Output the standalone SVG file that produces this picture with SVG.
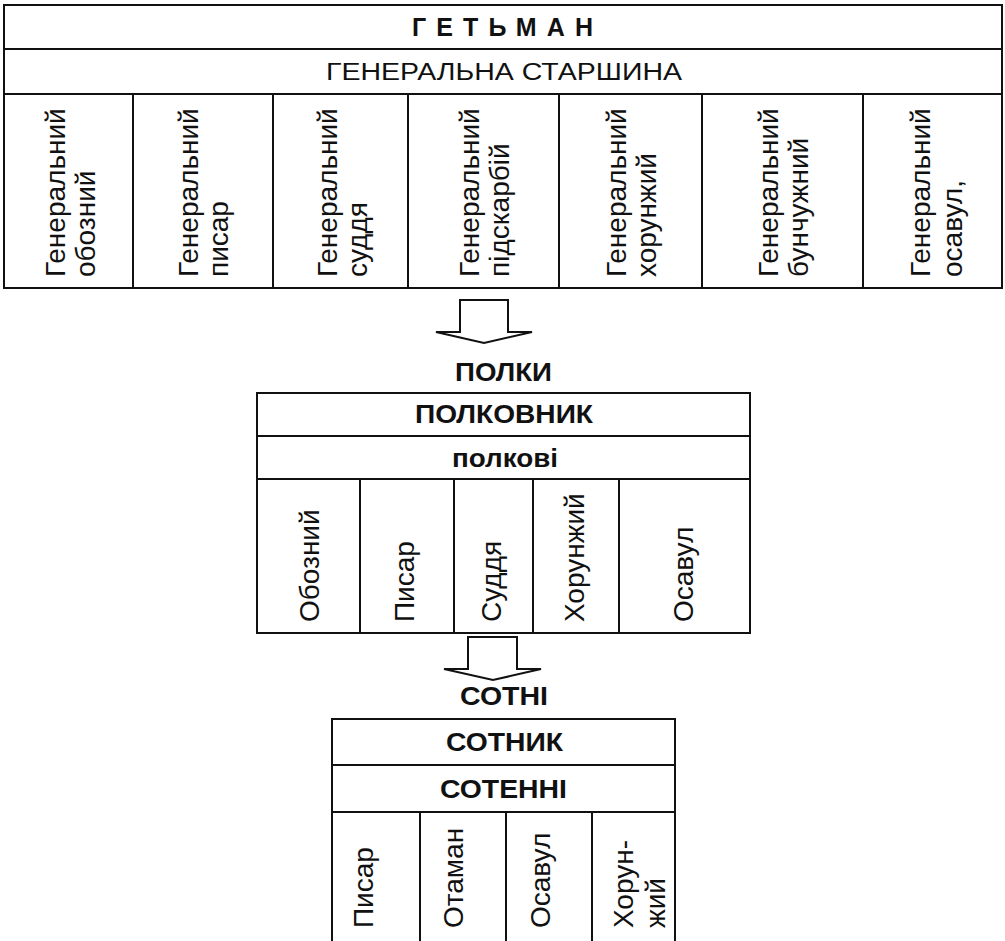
<svg xmlns="http://www.w3.org/2000/svg" width="1005" height="941" viewBox="0 0 1005 941">
<style>
.ln{fill:none;stroke:#111;stroke-width:2}
.bx{fill:#fff;stroke:#111;stroke-width:2}
.t{font-family:"Liberation Sans",Arial,sans-serif;fill:#111}
.b{font-weight:bold}
.r{font-size:28px}
.arr{fill:#fff;stroke:#111;stroke-width:2;stroke-linejoin:miter}
</style>
<rect width="1005" height="941" fill="#fff"/>

<g id="hetman">
  <rect class="bx" x="4" y="5" width="998" height="283"/>
  <line class="ln" x1="4" y1="49" x2="1002" y2="49"/>
  <line class="ln" x1="4" y1="94" x2="1002" y2="94"/>
  <line class="ln" x1="133" y1="94" x2="133" y2="288"/>
  <line class="ln" x1="273" y1="94" x2="273" y2="288"/>
  <line class="ln" x1="408" y1="94" x2="408" y2="288"/>
  <line class="ln" x1="559" y1="94" x2="559" y2="288"/>
  <line class="ln" x1="702" y1="94" x2="702" y2="288"/>
  <line class="ln" x1="863" y1="94" x2="863" y2="288"/>
  <text class="t b" x="412" y="36" font-size="25" textLength="181" lengthAdjust="spacing">ГЕТЬМАН</text>
  <text class="t" x="326" y="80" font-size="23" textLength="356" lengthAdjust="spacingAndGlyphs">ГЕНЕРАЛЬНА СТАРШИНА</text>
  <text class="t r" transform="translate(65,277) rotate(-90)"><tspan x="0" y="0">Генеральний</tspan><tspan x="0" y="30">обозний</tspan></text>
  <text class="t r" transform="translate(198,277) rotate(-90)"><tspan x="0" y="0">Генеральний</tspan><tspan x="0" y="30">писар</tspan></text>
  <text class="t r" transform="translate(337,277) rotate(-90)"><tspan x="0" y="0">Генеральний</tspan><tspan x="0" y="30">суддя</tspan></text>
  <text class="t r" transform="translate(479,277) rotate(-90)"><tspan x="0" y="0">Генеральний</tspan><tspan x="0" y="30">підскарбій</tspan></text>
  <text class="t r" transform="translate(626,277) rotate(-90)"><tspan x="0" y="0">Генеральний</tspan><tspan x="0" y="30">хорунжий</tspan></text>
  <text class="t r" transform="translate(778,277) rotate(-90)"><tspan x="0" y="0">Генеральний</tspan><tspan x="0" y="30">бунчужний</tspan></text>
  <text class="t r" transform="translate(930,277) rotate(-90)"><tspan x="0" y="0">Генеральний</tspan><tspan x="0" y="32">осавул,</tspan></text>
</g>

<g id="connectors">
  <polygon class="arr" points="460,300 508,300 508,332 532,332 484,343 436,332 460,332"/>
  <polygon class="arr" points="468,637 517,637 517,669 541,669 493,680 444,669 468,669"/>
</g>

<g id="polky-label">
  <text class="t b" x="455" y="381" font-size="25" textLength="97" lengthAdjust="spacingAndGlyphs">ПОЛКИ</text>
</g>

<g id="polky">
  <rect class="bx" x="257" y="393" width="493" height="240"/>
  <line class="ln" x1="257" y1="436" x2="750" y2="436"/>
  <line class="ln" x1="257" y1="479" x2="750" y2="479"/>
  <line class="ln" x1="360" y1="479" x2="360" y2="633"/>
  <line class="ln" x1="454" y1="479" x2="454" y2="633"/>
  <line class="ln" x1="533" y1="479" x2="533" y2="633"/>
  <line class="ln" x1="619" y1="479" x2="619" y2="633"/>
  <text class="t b" x="415" y="423" font-size="25" textLength="178" lengthAdjust="spacingAndGlyphs">ПОЛКОВНИК</text>
  <text class="t b" x="452" y="467" font-size="25" textLength="106" lengthAdjust="spacingAndGlyphs">полкові</text>
  <text class="t r" transform="translate(319,622) rotate(-90)">Обозний</text>
  <text class="t r" transform="translate(414,622) rotate(-90)">Писар</text>
  <text class="t r" transform="translate(501,622) rotate(-90)">Суддя</text>
  <text class="t r" transform="translate(584,622) rotate(-90)">Хорунжий</text>
  <text class="t r" transform="translate(693,622) rotate(-90)">Осавул</text>
</g>

<g id="sotni-label">
  <text class="t b" x="460" y="705" font-size="25" textLength="88" lengthAdjust="spacingAndGlyphs">СОТНІ</text>
</g>

<g id="sotni">
  <polyline class="ln" points="332,945 332,719 675,719 675,945"/>
  <line class="ln" x1="332" y1="765" x2="675" y2="765"/>
  <line class="ln" x1="332" y1="812" x2="675" y2="812"/>
  <line class="ln" x1="420" y1="812" x2="420" y2="945"/>
  <line class="ln" x1="506" y1="812" x2="506" y2="945"/>
  <line class="ln" x1="592" y1="812" x2="592" y2="945"/>
  <text class="t b" x="446" y="751" font-size="25" textLength="117" lengthAdjust="spacingAndGlyphs">СОТНИК</text>
  <text class="t b" x="440" y="798" font-size="25" textLength="127" lengthAdjust="spacingAndGlyphs">СОТЕННІ</text>
  <text class="t r" transform="translate(373,928) rotate(-90)">Писар</text>
  <text class="t r" transform="translate(463,928) rotate(-90)">Отаман</text>
  <text class="t r" transform="translate(550,928) rotate(-90)">Осавул</text>
  <text class="t r" transform="translate(633,928) rotate(-90)"><tspan x="0" y="0">Хорун-</tspan><tspan x="0" y="32">жий</tspan></text>
</g>
</svg>
